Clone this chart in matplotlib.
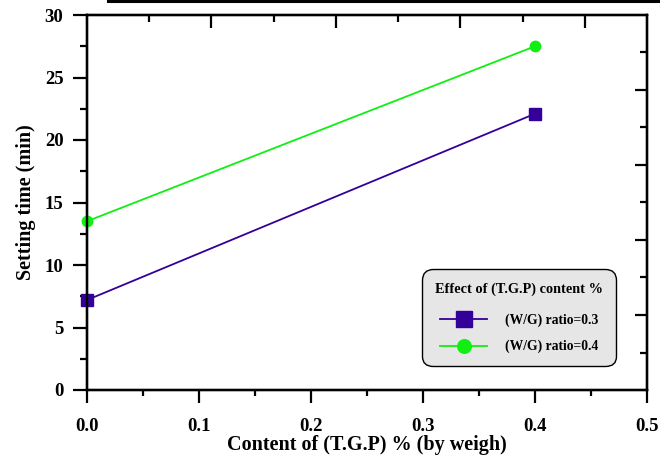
import matplotlib
matplotlib.use("Agg")
import matplotlib.pyplot as plt
from matplotlib.lines import Line2D
from matplotlib.ticker import MultipleLocator, FixedLocator

plt.rcParams['font.family'] = ['Liberation Serif', 'DejaVu Serif']
plt.rcParams['font.weight'] = 'bold'

content = [0.0, 0.4]
wg03 = [7.2, 22.1]
wg04 = [13.5, 27.5]
series_labels = ["(W/G) ratio=0.3", "(W/G) ratio=0.4"]
legend_title = "Effect of (T.G.P) content %"
xlabel = "Content of (T.G.P) % (by weigh)"
ylabel = "Setting time (min)"

fig = plt.figure(figsize=(6.6, 4.59), dpi=100)
ax = fig.add_axes([87/660, 69/459, 560/660, 375/459])

purple = '#330099'
green = '#11ee11'
ax.plot(content, wg03, color=purple, lw=1.3, marker='s', ms=9, mec=purple, mfc=purple,
        label=series_labels[0], zorder=3, clip_on=False)
ax.plot(content, wg04, color=green, lw=1.3, marker='o', ms=7.5, mec=green, mfc=green,
        label=series_labels[1], zorder=3, clip_on=False)

ax.set_xlim(0, 0.5)
ax.set_ylim(0, 30)
ax.xaxis.set_major_locator(MultipleLocator(0.1))
ax.xaxis.set_minor_locator(MultipleLocator(0.05))
ax.yaxis.set_major_locator(MultipleLocator(5))
ax.yaxis.set_minor_locator(MultipleLocator(2.5))
ax.set_xticks([0, 0.1, 0.2, 0.3, 0.4, 0.5])
ax.set_xticklabels(['0.0', '0.1', '0.2', '0.3', '0.4', '0.5'])

for s in ax.spines.values():
    s.set_linewidth(1.6)

ax.tick_params(axis='y', which='major', direction='out', length=10, width=1.6,
               labelsize=13.5, pad=7, right=False)
ax.tick_params(axis='y', which='minor', direction='out', length=5, width=1.6, right=False)
ax.tick_params(axis='x', which='major', direction='out', length=9, width=1.6,
               labelsize=13.5, pad=11, top=False)
ax.tick_params(axis='x', which='minor', direction='out', length=4.5, width=1.6, top=False)
for lbl in ax.get_xticklabels() + ax.get_yticklabels():
    lbl.set_fontweight('bold')

ax.set_xlabel(xlabel, fontsize=14.5, fontweight='bold', labelpad=0)
ax.set_ylabel(ylabel, fontsize=14.5, fontweight='bold', labelpad=6)

# mirrored top/right ticks (inward)
axt = ax.twiny()
axt.set_xlim(0, 9)
axt.xaxis.set_major_locator(FixedLocator([2, 4, 6, 8]))
axt.xaxis.set_minor_locator(FixedLocator([1, 3, 5, 7]))
axt.tick_params(axis='x', which='major', direction='in', length=9, width=1.6, labeltop=False,
                bottom=False, top=True)
axt.tick_params(axis='x', which='minor', direction='in', length=5, width=1.6,
                bottom=False, top=True)
axr = ax.twinx()
axr.set_ylim(0, 10)
axr.yaxis.set_major_locator(FixedLocator([2, 4, 6, 8]))
axr.yaxis.set_minor_locator(FixedLocator([1, 3, 5, 7, 9]))
axr.tick_params(axis='y', which='major', direction='in', length=9, width=1.6, labelright=False,
                left=False, right=True)
axr.tick_params(axis='y', which='minor', direction='in', length=5, width=1.6,
                left=False, right=True)
for a in (axt, axr):
    for s in a.spines.values():
        s.set_linewidth(1.6)

leg = axr.legend(*ax.get_legend_handles_labels(), title=legend_title,
                 loc='lower right', bbox_to_anchor=(0.952, 0.052),
                 title_fontproperties={'weight': 'bold', 'size': 10.3},
                 prop={'weight': 'bold', 'size': 9.8},
                 frameon=True, fancybox=True, facecolor='#e6e6e6', edgecolor='black',
                 framealpha=1, handlelength=3.5, handletextpad=1.3, borderpad=0.75,
                 labelspacing=0.95, markerscale=1.3)
leg.get_frame().set_linewidth(1.0)
leg.get_frame().set_boxstyle('round,pad=0.2,rounding_size=0.8')
leg._legend_box.sep = 13

fig.add_artist(Line2D([108/660, 1.0], [1 - 1.2/459, 1 - 1.2/459], color='black', lw=2.2,
                      transform=fig.transFigure))

fig.savefig('out.png', dpi=100)
